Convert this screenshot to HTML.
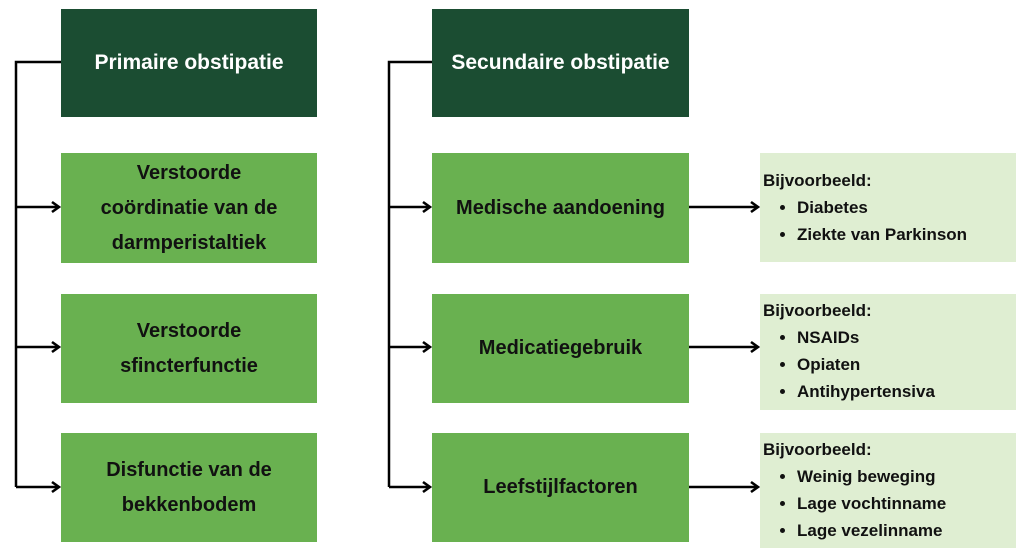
<!DOCTYPE html>
<html><head><meta charset="utf-8"><style>
body{margin:0;width:1024px;height:557px;background:#fff;position:relative;overflow:hidden;font-family:"Liberation Sans",sans-serif;font-weight:bold}
.b{position:absolute;display:flex;align-items:center;justify-content:center;text-align:center;box-sizing:border-box}
.d{background:#1b4d32;color:#fff;font-size:21px}
.m{background:#69b150;color:#111;font-size:20px;line-height:35px}
.l{position:absolute;background:#dfeed2;color:#111;font-size:17px;line-height:27px;padding-left:3px;box-sizing:border-box}
.l ul{margin:0;padding-left:34px}
svg{position:absolute;left:0;top:0}
</style></head><body>
<svg width="1024" height="557">
<defs><marker id="a" markerWidth="12" markerHeight="14" refX="10" refY="7" orient="auto" markerUnits="userSpaceOnUse"><path d="M3,2 L10,7 L3,12" fill="none" stroke="#000" stroke-width="2.6"/></marker></defs>
<g stroke="#000" stroke-width="2.5" fill="none">
<path d="M61,62 H16 V487"/>
<path d="M16,207 H59" marker-end="url(#a)"/>
<path d="M16,347 H59" marker-end="url(#a)"/>
<path d="M16,487 H59" marker-end="url(#a)"/>
<path d="M432,62 H389 V487"/>
<path d="M389,207 H430" marker-end="url(#a)"/>
<path d="M389,347 H430" marker-end="url(#a)"/>
<path d="M389,487 H430" marker-end="url(#a)"/>
<path d="M689,207 H758" marker-end="url(#a)"/>
<path d="M689,347 H758" marker-end="url(#a)"/>
<path d="M689,487 H758" marker-end="url(#a)"/>
</g></svg>
<div class="b d" style="left:61px;top:9px;width:256px;height:108px">Primaire obstipatie</div>
<div class="b m" style="left:61px;top:153px;width:256px;height:110px">Verstoorde<br>coördinatie van de<br>darmperistaltiek</div>
<div class="b m" style="left:61px;top:294px;width:256px;height:109px">Verstoorde<br>sfincterfunctie</div>
<div class="b m" style="left:61px;top:433px;width:256px;height:109px">Disfunctie van de<br>bekkenbodem</div>
<div class="b d" style="left:432px;top:9px;width:257px;height:108px">Secundaire obstipatie</div>
<div class="b m" style="left:432px;top:153px;width:257px;height:110px">Medische aandoening</div>
<div class="b m" style="left:432px;top:294px;width:257px;height:109px">Medicatiegebruik</div>
<div class="b m" style="left:432px;top:433px;width:257px;height:109px">Leefstijlfactoren</div>
<div class="l" style="left:760px;top:153px;width:256px;height:109px;padding-top:14px">Bijvoorbeeld:<ul><li>Diabetes</li><li>Ziekte van Parkinson</li></ul></div>
<div class="l" style="left:760px;top:294px;width:256px;height:116px;padding-top:3px">Bijvoorbeeld:<ul><li>NSAIDs</li><li>Opiaten</li><li>Antihypertensiva</li></ul></div>
<div class="l" style="left:760px;top:433px;width:256px;height:115px;padding-top:3px">Bijvoorbeeld:<ul><li>Weinig beweging</li><li>Lage vochtinname</li><li>Lage vezelinname</li></ul></div>
</body></html>
